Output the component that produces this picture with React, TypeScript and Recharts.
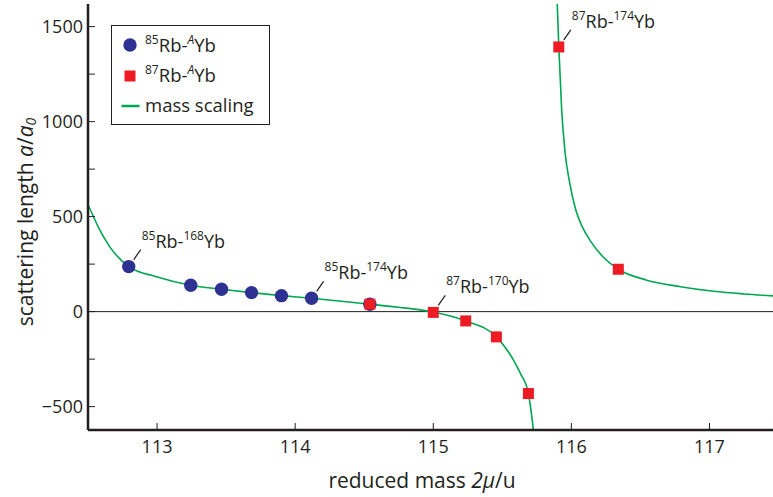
import React from 'react';
import {
  ComposedChart,
  Line,
  Scatter,
  XAxis,
  YAxis,
  ReferenceLine,
  ReferenceDot,
  Legend,
} from 'recharts';

const INK = '#231f20';
const BLUE = '#2e3192';
const RED = '#ed1c24';
const GREEN = '#00a651';
const FONT = '"Open Sans", sans-serif';

// 85Rb-AYb isotopologues (2μ/u, a/a0)
const RB85_MASS = [112.795, 113.244, 113.467, 113.684, 113.901, 114.119, 114.541];
const RB85_A = [237, 139, 118, 100, 84, 70, 39];

// 87Rb-AYb isotopologues
const RB87_MASS = [114.541, 115.0, 115.235, 115.457, 115.689, 115.909, 116.34];
const RB87_A = [39, -4, -49, -133, -431, 1393, 223];

// mass-scaling curve, branch below the pole
const LEFT_MASS = [112.5, 112.512, 112.585, 112.657, 112.795, 112.996, 113.244, 113.467, 113.684, 113.901, 114.119, 114.541, 114.75, 115.0, 115.235, 115.457, 115.58, 115.63, 115.689, 115.725, 115.745];
const LEFT_A = [563, 544, 430, 342, 237, 184, 139, 118, 100, 84, 70, 39, 23, -2, -49, -133, -254, -324, -431, -623, -760];

// branch above the pole
const RIGHT_MASS = [115.89, 115.909, 115.93, 115.954, 115.99, 116.03, 116.08, 116.14, 116.22, 116.34, 116.54, 116.79, 117.03, 117.25, 117.46];
const RIGHT_A = [1780, 1393, 1060, 840, 670, 540, 445, 370, 295, 223, 167, 131, 107, 93, 83];

const X_TICKS = [113, 114, 115, 116, 117];
const Y_TICKS = [-500, -250, 0, 250, 500, 750, 1000, 1250, 1500];
const X_DOMAIN = [112.5, 117.46];
const Y_DOMAIN = [-623, 1619];

const zip = (xs: number[], ys: number[]) => xs.map((x, i) => ({ x, a: ys[i] }));

const rb85 = zip(RB85_MASS, RB85_A);
const rb87 = zip(RB87_MASS, RB87_A);
const leftBranch = zip(LEFT_MASS, LEFT_A);
const rightBranch = zip(RIGHT_MASS, RIGHT_A);

// labelled points: [mass, a, Rb isotope, Yb isotope]
const LABELS: [number, number, string, string][] = [
  [112.795, 237, '85', '168'],
  [114.119, 70, '85', '174'],
  [115.0, -4, '87', '170'],
  [115.909, 1393, '87', '174'],
];

const BottomTick = ({ x, y, payload }: any) => (
  <g>
    <line x1={x} x2={x} y1={y} y2={y - 7} stroke={INK} strokeWidth={1} />
    <text x={x} y={y + 23} textAnchor="middle" fontSize={18} fill={INK} fontFamily={FONT}>
      {payload.value}
    </text>
  </g>
);

const TopTick = ({ x, y }: any) => (
  <line x1={x} x2={x} y1={y} y2={y + 7} stroke={INK} strokeWidth={1} />
);

const LeftTick = ({ x, y, payload }: any) => (
  <g>
    <line x1={x} x2={x + 7} y1={y} y2={y} stroke={INK} strokeWidth={1} />
    {payload.value % 500 === 0 && (
      <text x={x - 5} y={y + 6.5} textAnchor="end" fontSize={18} fill={INK} fontFamily={FONT}>
        {payload.value < 0 ? `\u2212${Math.abs(payload.value)}` : payload.value}
      </text>
    )}
  </g>
);

const RightTick = ({ x, y }: any) => (
  <line x1={x} x2={x - 7} y1={y} y2={y} stroke={INK} strokeWidth={1} />
);

const YTitle = ({ viewBox }: any) => {
  const cx = 25;
  const cy = viewBox.y + viewBox.height / 2 + 5;
  return (
    <text
      x={cx}
      y={cy}
      transform={`rotate(-90 ${cx} ${cy})`}
      textAnchor="middle"
      dominantBaseline="central"
      fontSize={21}
      fill={INK}
      fontFamily={FONT}
    >
      scattering length <tspan fontStyle="italic">a</tspan>/<tspan fontStyle="italic">a</tspan>
      <tspan fontStyle="italic" fontSize={14} dy={5}>0</tspan>
    </text>
  );
};

const XTitle = () => (
  <text x={422} y={488} textAnchor="middle" fontSize={21} fill={INK} fontFamily={FONT}>
    reduced mass <tspan fontStyle="italic">2μ</tspan>/u
  </text>
);

const IsoLabel = ({ viewBox, rb, yb }: any) => {
  const cx = viewBox.x + viewBox.width / 2;
  const cy = viewBox.y + viewBox.height / 2;
  return (
    <g>
      <line x1={cx + 5} y1={cy - 7} x2={cx + 12} y2={cy - 17} stroke={INK} strokeWidth={1.2} />
      <text x={cx + 13} y={cy - 19} fontSize={18} fill={INK} fontFamily={FONT}>
        <tspan fontSize={12} dy={-8}>{rb}</tspan>
        <tspan dy={8}>Rb-</tspan>
        <tspan fontSize={12} dy={-8}>{yb}</tspan>
        <tspan dy={8}>Yb</tspan>
      </text>
    </g>
  );
};

const Circle85 = ({ cx, cy }: any) => <circle cx={cx} cy={cy} r={6.7} fill={BLUE} />;
const Square87 = ({ cx, cy }: any) => (
  <rect x={cx - 5.5} y={cy - 5.5} width={11} height={11} fill={RED} />
);

const LegendBox = () => (
  <svg width={160} height={101} style={{ display: 'block' }}>
    <rect x={0.5} y={0.5} width={158} height={99} fill="#fff" stroke={INK} strokeWidth={1} />
    <circle cx={19} cy={20} r={6.7} fill={BLUE} />
    <text x={34} y={27} fontSize={18.5} fill={INK} fontFamily={FONT}>
      <tspan fontSize={12} dy={-8}>85</tspan>
      <tspan dy={8}>Rb-</tspan>
      <tspan fontSize={12} dy={-8} fontStyle="italic">A</tspan>
      <tspan dy={8}>Yb</tspan>
    </text>
    <rect x={13.5} y={45.5} width={11} height={11} fill={RED} />
    <text x={34} y={57} fontSize={18.5} fill={INK} fontFamily={FONT}>
      <tspan fontSize={12} dy={-8}>87</tspan>
      <tspan dy={8}>Rb-</tspan>
      <tspan fontSize={12} dy={-8} fontStyle="italic">A</tspan>
      <tspan dy={8}>Yb</tspan>
    </text>
    <line x1={10.5} x2={28.5} y1={81} y2={81} stroke={GREEN} strokeWidth={2.5} />
    <text x={34} y={87} fontSize={18.5} fill={INK} fontFamily={FONT}>
      mass scaling
    </text>
  </svg>
);

export default function App() {
  return (
    <div style={{ position: 'absolute', left: 0, top: 0, background: '#fff' }}>
      <ComposedChart width={773} height={497} margin={{ top: 4, right: 0, bottom: 0, left: 0 }}>
        <XAxis
          dataKey="x"
          type="number"
          domain={X_DOMAIN}
          ticks={X_TICKS}
          allowDataOverflow
          height={67}
          tickSize={0}
          tickMargin={0}
          tick={BottomTick}
          axisLine={{ stroke: INK, strokeWidth: 2.5 }}
          label={<XTitle />}
        />
        <XAxis
          xAxisId="top"
          orientation="top"
          dataKey="x"
          type="number"
          domain={X_DOMAIN}
          ticks={X_TICKS}
          allowDataOverflow
          height={0}
          tickSize={0}
          tickMargin={0}
          tick={TopTick}
          axisLine={{ stroke: INK, strokeWidth: 2.5 }}
        />
        <YAxis
          dataKey="a"
          type="number"
          domain={Y_DOMAIN}
          ticks={Y_TICKS}
          allowDataOverflow
          width={88}
          tickSize={0}
          tickMargin={0}
          tick={LeftTick}
          axisLine={{ stroke: INK, strokeWidth: 2.5 }}
          label={<YTitle />}
        />
        <YAxis
          yAxisId="right"
          orientation="right"
          dataKey="a"
          type="number"
          domain={Y_DOMAIN}
          ticks={Y_TICKS}
          allowDataOverflow
          width={0}
          tickSize={0}
          tickMargin={0}
          tick={RightTick}
          axisLine={false}
        />
        <Legend
          layout="vertical"
          align="center"
          verticalAlign="middle"
          wrapperStyle={{ left: 111, top: 25, width: 160, height: 101 }}
          content={() => <LegendBox />}
        />
        <ReferenceLine y={0} stroke={INK} strokeWidth={1} />
        <Line
          data={leftBranch}
          dataKey="a"
          type="monotone"
          stroke={GREEN}
          strokeWidth={1.6}
          dot={false}
          activeDot={false}
          isAnimationActive={false}
          legendType="none"
        />
        <Line
          data={rightBranch}
          dataKey="a"
          type="monotone"
          stroke={GREEN}
          strokeWidth={1.6}
          dot={false}
          activeDot={false}
          isAnimationActive={false}
          legendType="none"
        />
        <Scatter data={rb85} dataKey="a" shape={Circle85} isAnimationActive={false} />
        <Scatter data={rb87} dataKey="a" shape={Square87} isAnimationActive={false} />
        {LABELS.map(([m, a, rb, yb]) => (
          <ReferenceDot
            key={`${rb}-${yb}`}
            x={m}
            y={a}
            r={0}
            fill="none"
            stroke="none"
            label={<IsoLabel rb={rb} yb={yb} />}
          />
        ))}
      </ComposedChart>
    </div>
  );
}
